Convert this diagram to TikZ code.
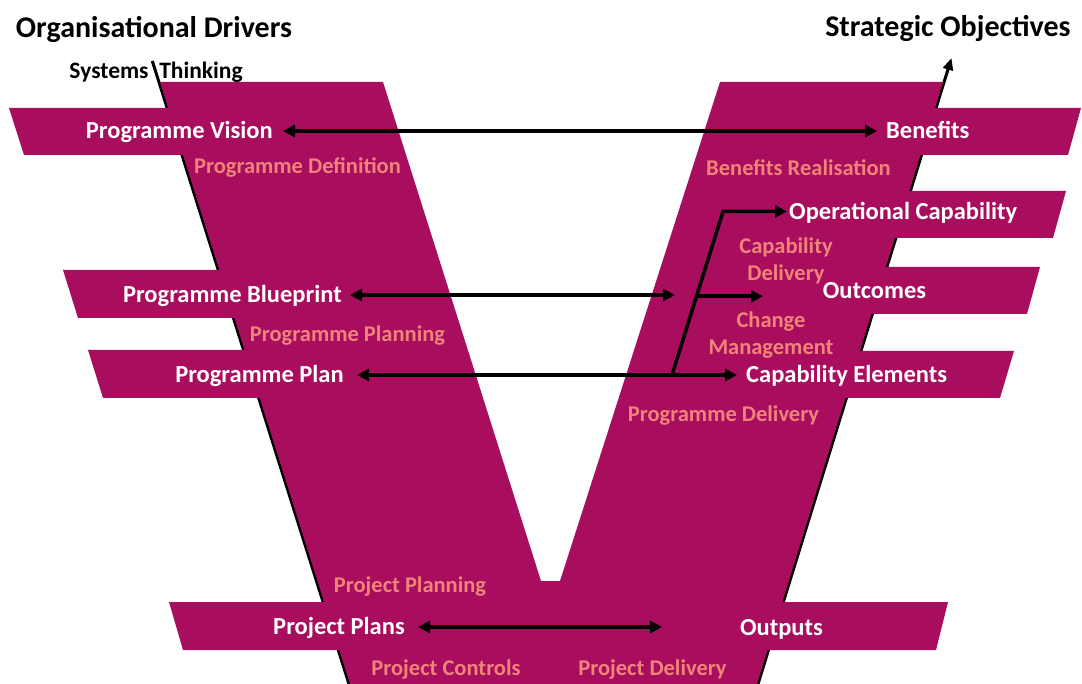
\documentclass[tikz,border=0pt]{standalone}
\usepackage{fontspec}
\setmainfont{Carlito}
\usetikzlibrary{arrows.meta,calc}
\definecolor{vmag}{RGB}{169,13,94}
\definecolor{salmon}{RGB}{240,132,122}
\begin{document}
\begin{tikzpicture}[x=1pt,y=-1pt,
  wlabel/.style={text=white,font=\fontsize{24.5}{28}\selectfont\bfseries,inner xsep=0pt,inner ysep=0pt,text height=15.8pt,text depth=0pt},
  slabel/.style={text=salmon,font=\fontsize{22.5}{27}\selectfont\bfseries,inner sep=0pt,text height=14.5pt,text depth=0pt},
  mlabel/.style={text=salmon,font=\fontsize{22.5}{27}\selectfont\bfseries,inner sep=0pt,align=center},
  ttl/.style={text=black,font=\fontsize{30}{34}\selectfont\bfseries,inner sep=0pt,text height=19.3pt,text depth=0pt},
  sys/.style={text=black,font=\fontsize{23.5}{28}\selectfont\bfseries,inner sep=0pt,text height=15.1pt,text depth=0pt},
  band/.style={fill=vmag,draw=none},
  conn/.style={line width=3.5pt,-{Triangle[length=12pt,width=12pt]}},
  dconn/.style={line width=3.5pt,{Triangle[length=12pt,width=12pt]}-{Triangle[length=12pt,width=12pt]}},
  edgeline/.style={line width=3pt,black}]
\useasboundingbox (0,0) rectangle (1082,684);
% shadow / edge lines
\coordinate (lt) at (152.3,61);
\coordinate (lb) at (349,684);
\coordinate (rb) at (758,684);
\coordinate (rt) at (951.5,58);
\draw[edgeline] (lt) -- (lb);
\draw[edgeline,-{Triangle[length=12pt,width=10pt]}] (rb) -- (rt);
% the V
\fill[vmag] (160,82) -- (383,82) -- (541,581) -- (560,581) -- (720,82) -- (943,82) -- (757,684) -- (350,684) -- cycle;
% left bands
\fill[band] (9,108) -- (300,108) -- (300,155) -- (24,155) -- cycle;
\fill[band] (63,270) -- (320,270) -- (320,318) -- (78,318) -- cycle;
\fill[band] (88,350) -- (330,350) -- (330,398) -- (103,398) -- cycle;
% bottom band
\fill[band] (169,602) -- (948,602) -- (936,650) -- (183,650) -- cycle;
% right bands
\fill[band] (800,108) -- (1081,108) -- (1068,155) -- (800,155) -- cycle;
\fill[band] (760,191) -- (1066,191) -- (1053,238) -- (760,238) -- cycle;
\fill[band] (720,267) -- (1040,267) -- (1027,314) -- (720,314) -- cycle;
\fill[band] (700,351) -- (1014,351) -- (1000,398) -- (700,398) -- cycle;
% titles
\node[ttl] (od) at (154,28) {Organisational Drivers};
\node[ttl] (so) at (948,27) {Strategic Objectives};
\node[sys] (sy) at (109,71) {Systems};
\node[sys] (th) at (201,71) {Thinking};
% white labels
\node[wlabel,anchor=east,inner xsep=10pt] (pv) at (283,131) {Programme Vision};
\node[wlabel,anchor=west,inner xsep=9pt] (ben) at (877,131) {Benefits};
\node[wlabel,anchor=east,inner xsep=8pt] (pb) at (350,295) {Programme Blueprint};
\node[wlabel,anchor=east,inner xsep=13pt] (pp) at (357,375) {Programme Plan};
\node[wlabel,anchor=west,inner xsep=9pt] (ce) at (737,375) {Capability Elements};
\node[wlabel,anchor=west,inner xsep=2pt] (oc) at (787,211.5) {Operational Capability};
\node[wlabel] (ou) at (874.5,291) {Outcomes};
\node[wlabel,anchor=east,inner xsep=13pt] (prp) at (418,627) {Project Plans};
\node[wlabel] (opt) at (781.5,628) {Outputs};
% salmon labels
\node[slabel] (pdef) at (297.5,166) {Programme Definition};
\node[slabel] (breal) at (798.5,168) {Benefits Realisation};
\node[mlabel] (capd) at (786,260.5) {Capability\\Delivery};
\node[mlabel] (chm) at (771,335) {Change\\Management};
\node[slabel] (pdel) at (723.5,414) {Programme Delivery};
\node[slabel] (ppl) at (347.5,334) {Programme Planning};
\node[slabel] (prpl) at (410,585) {Project Planning};
\node[slabel] (prc) at (446,668) {Project Controls};
\node[slabel] (prd) at (652.5,668) {Project Delivery};
% connectors
\coordinate (pbtip) at (675,295);
\coordinate (j0) at (672,375);
\coordinate (jtop) at (723,211.5);
\coordinate (jmid) at ($(j0)!0.4817!(jtop)$);
\coordinate (outip) at (763,296);
\coordinate (opttip) at (662,627);
\draw[dconn] (pv.east) -- (ben.west);
\draw[dconn] (pb.east) -- (pbtip);
\draw[dconn] (pp.east) -- (ce.west);
\draw[conn] (j0) -- (jtop) -- (oc.west);
\draw[conn] (jmid) -- (outip |- jmid);
\draw[dconn] (prp.east) -- (opttip);
\end{tikzpicture}
\end{document}
